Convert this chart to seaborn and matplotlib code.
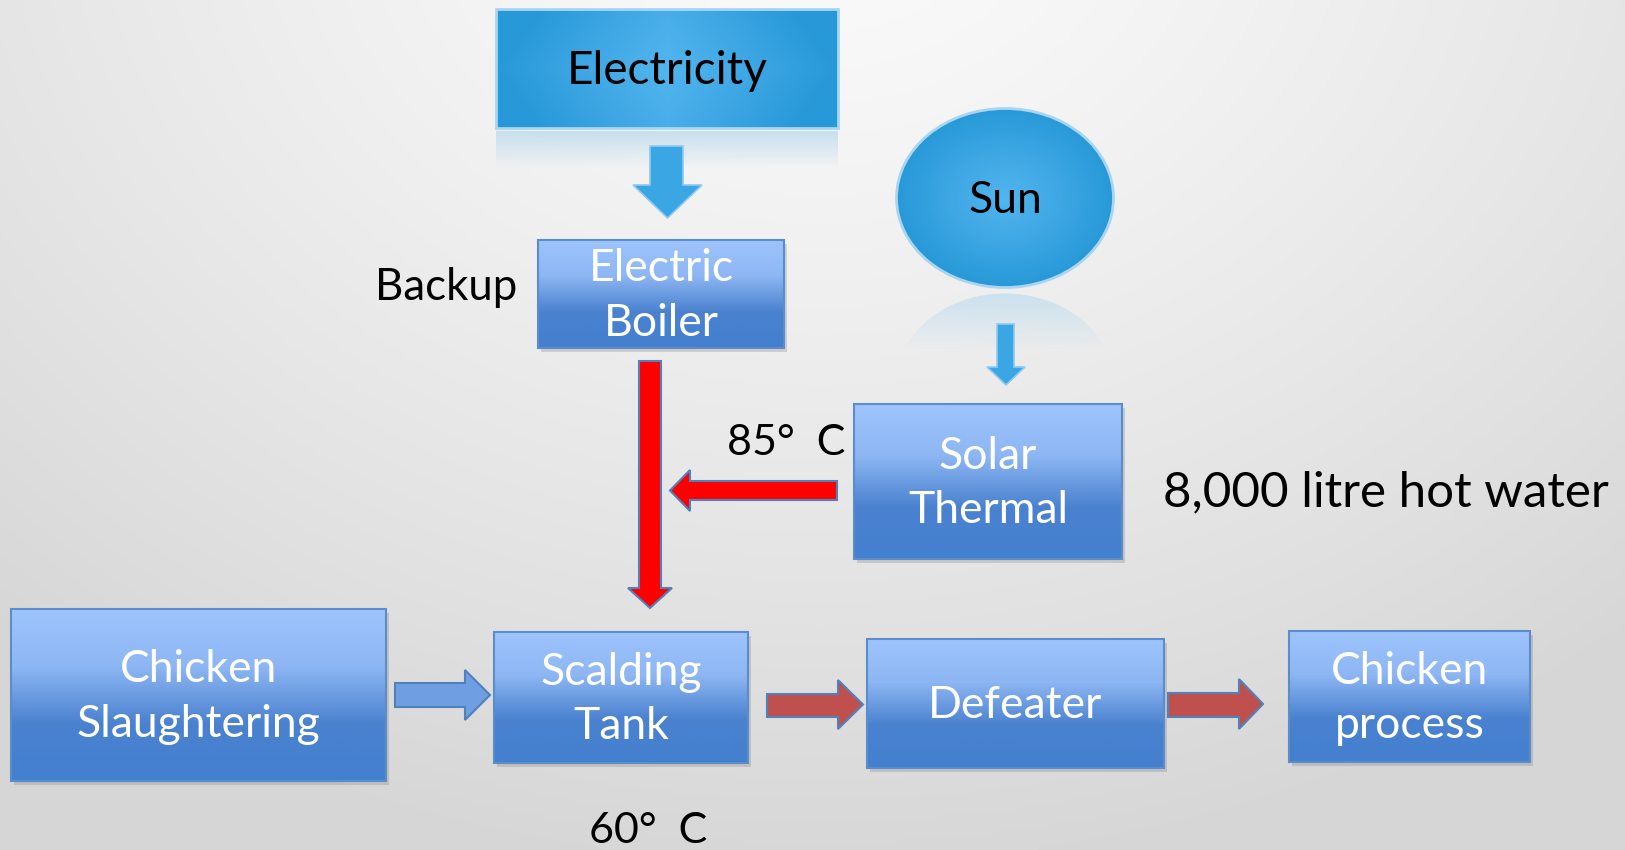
import numpy as np
import matplotlib.pyplot as plt
import seaborn as sns
from matplotlib.patches import Rectangle, Ellipse, Polygon

sns.set_theme(style="white")
plt.rcParams['font.family'] = ['Lato', 'DejaVu Sans']

# diagram content
box_labels = ["Electric\nBoiler", "Solar\nThermal", "Chicken\nSlaughtering",
              "Scalding\nTank", "Defeater", "Chicken\nprocess"]
source_labels = ["Electricity", "Sun"]
note_labels = ["Backup", "85°  C", "60°  C", "8,000 litre hot water"]

# layout (pixel coords, y down)
box_x0 = [538, 854, 11, 494, 867, 1289]
box_x1 = [784, 1122, 386, 748, 1164, 1530]
box_y0 = [240, 404, 609, 632, 639, 631]
box_y1 = [348, 559, 781, 763, 768, 762]

W, H = 1625, 850
fig = plt.figure(figsize=(W / 100, H / 100), dpi=100)
ax = fig.add_axes([0, 0, 1, 1])
ax.axis('off')

# background: soft radial grey
yy, xx = np.mgrid[0:H:4, 0:W:4]
d = np.clip(np.hypot((xx - 820) / 1.25, yy + 120) / 1000, 0, 1)
c0, c1 = np.array([0.985, 0.985, 0.985]), np.array([0.84, 0.84, 0.84])
bg = c0 + (c1 - c0) * d[..., None] ** 1.3
ax.imshow(bg, extent=(0, W, H, 0), aspect='auto', zorder=0)

box_cmap = sns.blend_palette(["#9ec4fd", "#8db6f3", "#4a82cf", "#4380cf"], as_cmap=True)
grad = np.linspace(0, 1, 256)[:, None]


def gradient_box(x0, x1, y0, y1):
    ax.add_patch(Rectangle((x0 + 3, y0 + 4), x1 - x0, y1 - y0, fc='#707070',
                           ec='none', alpha=0.25, zorder=1))
    rect = Rectangle((x0, y0), x1 - x0, y1 - y0, fc='none', ec='#5b8ccc', lw=1.5, zorder=3)
    ax.add_patch(rect)
    im = ax.imshow(grad, extent=(x0, x1, y1, y0), cmap=box_cmap, aspect='auto', zorder=2)
    im.set_clip_path(rect)


for lab, x0, x1, y0, y1 in zip(box_labels, box_x0, box_x1, box_y0, box_y1):
    gradient_box(x0, x1, y0, y1)
    ax.text((x0 + x1) / 2, (y0 + y1) / 2 + 2, lab, color='white', fontsize=32,
            ha='center', va='center', linespacing=1.42, zorder=4)

# radial blue fill used for the Electricity box and the Sun
ry, rx = np.mgrid[-1:1:200j, -1:1:200j]
rad = np.clip(np.hypot(rx, ry), 0, 1)
sun_cmap = sns.blend_palette(["#52b5ee", "#3ea7e4", "#2899d8"], as_cmap=True)

# Electricity box + reflection
ex0, ex1, ey0, ey1 = 496, 838, 9, 128
er = Rectangle((ex0, ey0), ex1 - ex0, ey1 - ey0, fc='none', ec='#a9d5f2', lw=2, zorder=3)
ax.add_patch(er)
ex_grad = np.clip(np.abs(rx) * 1.0 + np.abs(ry) * 0.25, 0, 1)
im = ax.imshow(ex_grad, extent=(ex0, ex1, ey1, ey0), cmap=sun_cmap, aspect='auto', zorder=2)
im.set_clip_path(er)
refl = np.zeros((100, 2, 4))
refl[..., :3] = [0.72, 0.85, 0.93]
refl[..., 3] = np.linspace(0.75, 0.0, 100)[:, None]
ax.imshow(refl, extent=(ex0, ex1, 168, ey1 + 3), aspect='auto', zorder=1)
ax.text((ex0 + ex1) / 2, (ey0 + ey1) / 2 + 2, source_labels[0], color='black',
        fontsize=33, ha='center', va='center', zorder=4)

# Sun ellipse + reflection
scx, scy, sw, sh = 1005, 198, 217, 179
se = Ellipse((scx, scy), sw, sh, fc='none', ec='#a9d5f2', lw=2, zorder=3)
ax.add_patch(se)
im = ax.imshow(rad, extent=(scx - sw / 2, scx + sw / 2, scy + sh / 2, scy - sh / 2),
               cmap=sun_cmap, aspect='auto', zorder=2)
im.set_clip_path(se)
mir_cy = 2 * (scy + sh / 2) + 6 - scy
se2 = Ellipse((scx, mir_cy), sw, sh, fc='none', ec='none')
ax.add_patch(se2)
srefl = np.zeros((100, 2, 4))
srefl[..., :3] = [0.74, 0.86, 0.94]
srefl[..., 3] = np.linspace(0.7, 0.0, 100)[:, None]
im = ax.imshow(srefl, extent=(scx - sw / 2, scx + sw / 2, 350, scy + sh / 2 + 6),
               aspect='auto', zorder=1)
im.set_clip_path(se2)
ax.text(scx, scy + 2, source_labels[1], color='black', fontsize=32,
        ha='center', va='center', zorder=4)


def down_arrow(xa, xb, top, neck, hx0, hx1, tip, **kw):
    xc = (hx0 + hx1) / 2
    pts = [(xa, top), (xb, top), (xb, neck), (hx1, neck), (xc, tip),
           (hx0, neck), (xa, neck)]
    ax.add_patch(Polygon(pts, closed=True, **kw))


def right_arrow(left, neck, tip, ya, yb, hy0, hy1, **kw):
    yc = (hy0 + hy1) / 2
    pts = [(left, ya), (neck, ya), (neck, hy0), (tip, yc), (neck, hy1),
           (neck, yb), (left, yb)]
    ax.add_patch(Polygon(pts, closed=True, **kw))


def left_arrow(right, neck, tip, ya, yb, hy0, hy1, **kw):
    yc = (hy0 + hy1) / 2
    pts = [(right, ya), (neck, ya), (neck, hy0), (tip, yc), (neck, hy1),
           (neck, yb), (right, yb)]
    ax.add_patch(Polygon(pts, closed=True, **kw))


blue_kw = dict(fc='#3ba6e4', ec='#8ecbf1', lw=1.2, zorder=3)
down_arrow(650, 683, 146, 185, 633, 702, 218, **blue_kw)
down_arrow(997, 1014, 324, 367, 987, 1025, 385, **blue_kw)

red_kw = dict(fc='#ff0000', ec='#4f81bd', lw=1.5, zorder=3)
down_arrow(639, 661, 361, 588, 628, 672, 608, **red_kw)
left_arrow(837, 690, 670, 481, 500, 470, 511, **red_kw)

right_arrow(395, 465, 490, 683, 707, 670, 720, fc='#6f9fe2', ec='#4f81bd', lw=1.5, zorder=3)
brown_kw = dict(fc='#c0504d', ec='#4f81bd', lw=1.5, zorder=3)
right_arrow(767, 838, 863, 694, 717, 680, 729, **brown_kw)
right_arrow(1168, 1239, 1263, 693, 717, 679, 729, **brown_kw)

# notes
ax.text(517, 288, note_labels[0], fontsize=31.5, color='black', ha='right', va='center')
ax.text(727, 443, note_labels[1], fontsize=31, color='black', ha='left', va='center')
ax.text(589, 831, note_labels[2], fontsize=31, color='black', ha='left', va='center')
ax.text(1163, 492, note_labels[3], fontsize=35.5, color='black', ha='left', va='center')

ax.set_xlim(0, W)
ax.set_ylim(H, 0)
fig.savefig('out.png', dpi=100)
